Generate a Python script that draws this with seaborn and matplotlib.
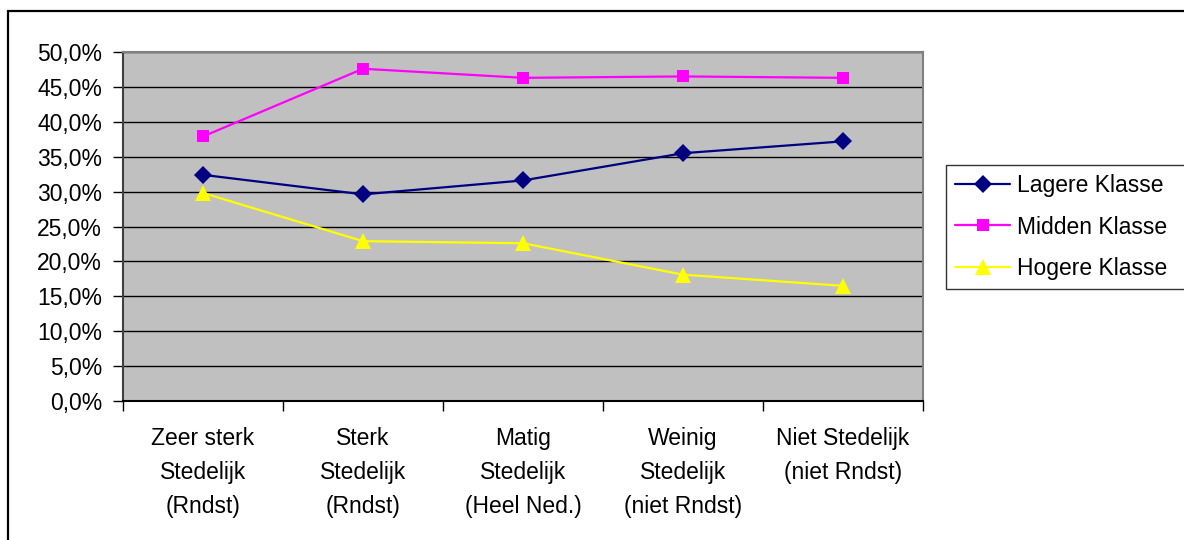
import matplotlib
matplotlib.use("Agg")
import matplotlib.pyplot as plt
import matplotlib.patches as patches
from matplotlib.ticker import FixedLocator, FuncFormatter
import pandas as pd
import seaborn as sns

# Chart data (percentages per degree of urbanisation)
categories = [
    "Zeer sterk\nStedelijk\n(Rndst)",
    "Sterk\nStedelijk\n(Rndst)",
    "Matig\nStedelijk\n(Heel Ned.)",
    "Weinig\nStedelijk\n(niet Rndst)",
    "Niet Stedelijk\n(niet Rndst)",
]
series_names = ["Lagere Klasse", "Midden Klasse", "Hogere Klasse"]
lagere_klasse = [32.4, 29.6, 31.6, 35.5, 37.2]
midden_klasse = [37.9, 47.6, 46.3, 46.5, 46.3]
hogere_klasse = [29.8, 22.9, 22.6, 18.1, 16.5]
y_ticks = [0, 5, 10, 15, 20, 25, 30, 35, 40, 45, 50]

colors = {"Lagere Klasse": "#000080", "Midden Klasse": "#FF00FF", "Hogere Klasse": "#FFFF00"}
markers = {"Lagere Klasse": "D", "Midden Klasse": "s", "Hogere Klasse": "^"}
marker_sizes = {"Lagere Klasse": 9, "Midden Klasse": 8.5, "Hogere Klasse": 11}


def build_frame():
    """Puts the three series in long format for seaborn."""
    rows = []
    for name, values in zip(series_names, [lagere_klasse, midden_klasse, hogere_klasse]):
        for cat, val in zip(categories, values):
            rows.append({"categorie": cat, "klasse": name, "pct": val})
    return pd.DataFrame(rows)


sns.set_theme(style="white")
plt.rcParams["font.family"] = ["Liberation Sans", "DejaVu Sans"]
plt.rcParams["text.color"] = "black"
plt.rcParams["xtick.color"] = "black"
plt.rcParams["ytick.color"] = "black"
FS = 16.5

df = build_frame()

fig = plt.figure(figsize=(11.84, 5.4), dpi=100)
ax = fig.add_axes([0.1039, 0.2574, 0.6757, 0.6463])
ax.set_facecolor("#C0C0C0")

sns.lineplot(
    data=df, x="categorie", y="pct", hue="klasse", style="klasse",
    hue_order=series_names, style_order=series_names,
    palette=colors, markers=markers, dashes=False, sort=False,
    linewidth=1.6, markersize=9, markeredgewidth=0, legend=False, ax=ax,
)
# per-series marker sizes (triangles look smaller otherwise)
for line, name in zip(ax.lines, series_names):
    line.set_markersize(marker_sizes[name])

# axes limits and ticks
ax.set_xlim(-0.5, len(categories) - 0.5)
ax.set_ylim(y_ticks[0], y_ticks[-1])
ax.set_yticks(y_ticks)
ax.yaxis.set_major_formatter(FuncFormatter(lambda v, p: f"{v:.1f}%".replace(".", ",")))
ax.xaxis.set_minor_locator(FixedLocator([i - 0.5 for i in range(len(categories) + 1)]))
ax.tick_params(axis="x", which="major", length=0, pad=19, labelsize=FS, labelcolor="black")
ax.tick_params(axis="x", which="minor", length=7, width=1, color="black", direction="out", bottom=True)
ax.tick_params(axis="y", length=7, width=1, color="black", direction="out", left=True, pad=8,
               labelsize=FS, labelcolor="black")
for lbl in ax.get_xticklabels():
    lbl.set_linespacing(1.6)
ax.set_xlabel("")
ax.set_ylabel("")

ax.set_axisbelow(True)
ax.yaxis.grid(True, color="black", linewidth=1)
for side in ["top", "right"]:
    ax.spines[side].set_color("#808080")
    ax.spines[side].set_linewidth(1.5)
ax.spines["left"].set_color("#404040")
ax.spines["left"].set_linewidth(1.5)
ax.spines["bottom"].set_color("black")
ax.spines["bottom"].set_linewidth(1.5)

# legend on the right, its right edge runs off the picture like the original
leg = fig.legend(
    ax.lines[:len(series_names)], series_names, loc="upper left",
    bbox_to_anchor=(946 / 1184, 1 - 165 / 540, 260 / 1184, 0.0), mode="expand",
    fontsize=FS, frameon=True, fancybox=False, shadow=False, edgecolor="black",
    handlelength=2.4, handletextpad=0.3, labelspacing=0.8, borderpad=0.4,
    borderaxespad=0,
)
leg.get_frame().set_linewidth(1)
for txt in leg.get_texts():
    txt.set_color("black")

# outer chart border
fig.patches.append(patches.Rectangle(
    (8 / 1184, -0.05), 1.2, 1 - 11 / 540 + 0.05, transform=fig.transFigure,
    fill=False, edgecolor="black", linewidth=1.6))

fig.savefig("out.png", dpi=100)
